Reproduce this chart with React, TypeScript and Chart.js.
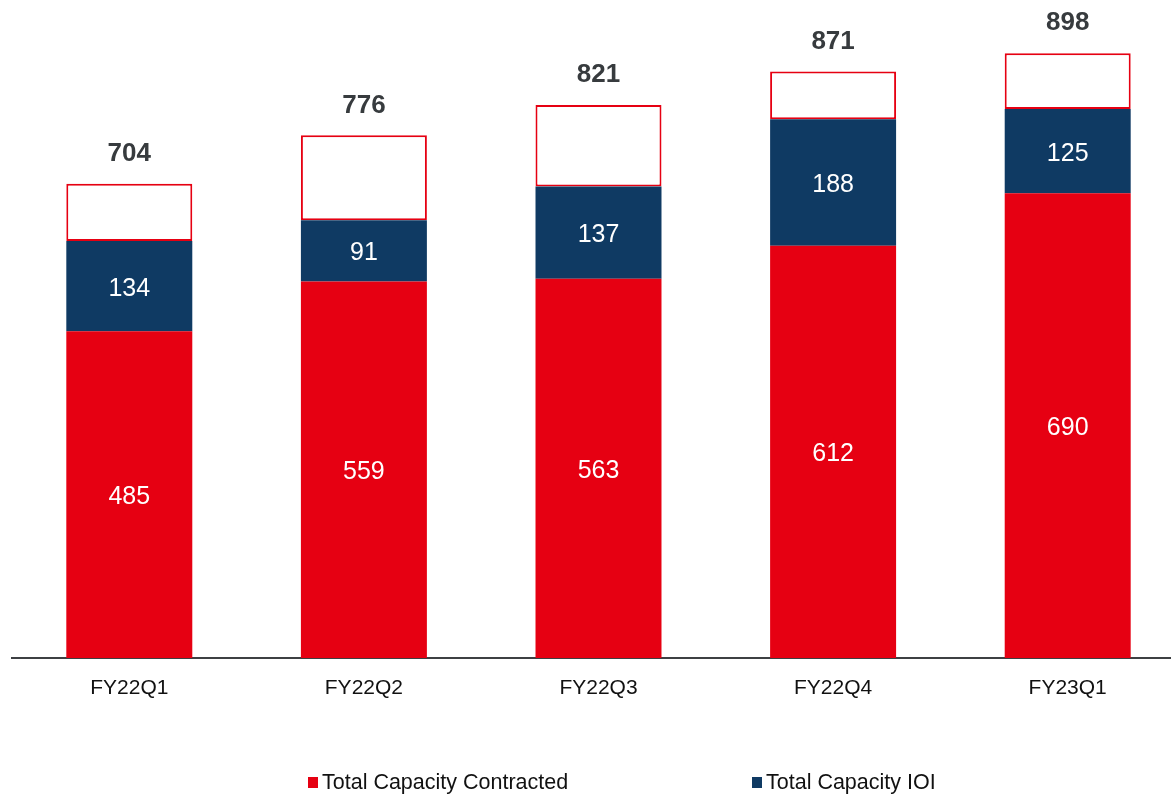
import React, { useEffect, useRef } from "react";
import { Chart, registerables } from "chart.js";

Chart.register(...registerables);

const categories = ["FY22Q1", "FY22Q2", "FY22Q3", "FY22Q4", "FY23Q1"];
const contracted = [485, 559, 563, 612, 690];
const ioi = [134, 91, 137, 188, 125];
const totals = [704, 776, 821, 871, 898];
const seriesLabels = ["Total Capacity Contracted", "Total Capacity IOI"];

const RED = "#E60012";
const NAVY = "#0F3A63";
const FONT = "'Liberation Sans', Arial, sans-serif";

const remainder = totals.map((t, i) => t - contracted[i] - ioi[i]);

const labelPlugin = {
  id: "valueLabels",
  afterDatasetsDraw(chart: any) {
    const ctx = chart.ctx;
    ctx.save();
    ctx.textAlign = "center";
    ctx.textBaseline = "middle";
    [0, 1].forEach((di) => {
      const meta = chart.getDatasetMeta(di);
      const vals = chart.data.datasets[di].data;
      ctx.fillStyle = "#ffffff";
      ctx.font = `25px ${FONT}`;
      meta.data.forEach((bar: any, i: number) => {
        ctx.fillText(String(vals[i]), bar.x, (bar.y + bar.base) / 2 + 2.5);
      });
    });
    const topMeta = chart.getDatasetMeta(2);
    ctx.fillStyle = "#373b3e";
    ctx.font = `bold 26px ${FONT}`;
    topMeta.data.forEach((bar: any, i: number) => {
      ctx.fillText(String(totals[i]), bar.x, bar.y - 30);
    });
    ctx.restore();
  },
};

const legendPlugin = {
  id: "customLegend",
  afterDraw(chart: any) {
    const ctx = chart.ctx;
    const xs = [308, 752];
    const colors = [RED, NAVY];
    const cy = 783;
    ctx.save();
    ctx.font = `21.5px ${FONT}`;
    ctx.textBaseline = "middle";
    ctx.textAlign = "left";
    seriesLabels.forEach((lab, i) => {
      ctx.fillStyle = colors[i];
      ctx.fillRect(xs[i], cy - 6, 10, 11);
      ctx.fillStyle = "#111111";
      ctx.fillText(lab, xs[i] + 14, cy);
    });
    ctx.restore();
  },
};

export default function App() {
  const ref = useRef<HTMLCanvasElement>(null);
  useEffect(() => {
    if (!ref.current) return;
    const chart = new Chart(ref.current, {
      type: "bar",
      data: {
        labels: categories,
        datasets: [
          {
            label: seriesLabels[0],
            data: contracted,
            backgroundColor: RED,
            borderWidth: 0,
          },
          {
            label: seriesLabels[1],
            data: ioi,
            backgroundColor: NAVY,
            borderWidth: 0,
          },
          {
            label: "Remaining",
            data: remainder,
            backgroundColor: "#ffffff",
            borderColor: RED,
            borderWidth: 2,
            borderSkipped: false,
          },
        ],
      },
      options: {
        responsive: false,
        animation: false,
        layout: { padding: { left: 12, right: 0, top: 0, bottom: 0 } },
        datasets: { bar: { barPercentage: 0.537, categoryPercentage: 1 } },
        plugins: {
          legend: { display: false },
          tooltip: { enabled: false },
        },
        scales: {
          x: {
            stacked: true,
            grid: { display: true, drawOnChartArea: false, drawTicks: false },
            border: { display: true, color: "#3d4043", width: 2 },
            ticks: {
              color: "#111111",
              font: { family: FONT, size: 21 },
              padding: 18,
            },
            afterFit(scale: any) {
              scale.height = 137;
            },
          },
          y: {
            stacked: true,
            display: false,
            min: 0,
            max: 977,
          },
        },
      },
      plugins: [labelPlugin, legendPlugin],
    });
    return () => chart.destroy();
  }, []);
  return (
    <div
      style={{
        position: "absolute",
        left: 0,
        top: 0,
        width: 1171,
        height: 795,
        overflow: "hidden",
        background: "#ffffff",
      }}
    >
      <canvas ref={ref} width={1185} height={795} style={{ display: "block" }} />
    </div>
  );
}
